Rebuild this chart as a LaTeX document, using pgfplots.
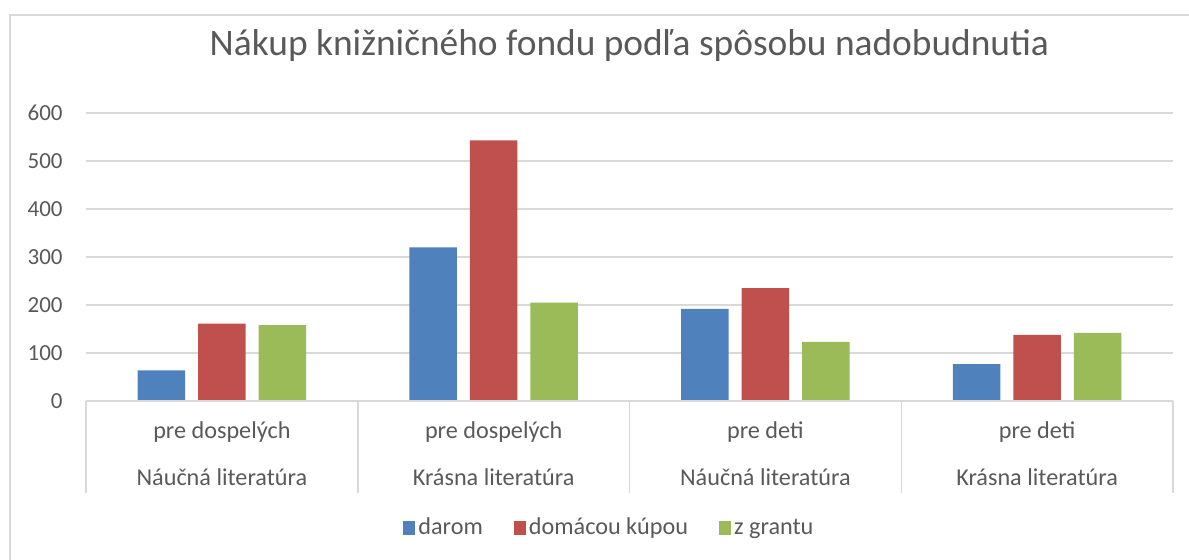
\documentclass[border=0pt]{standalone}
\usepackage{pgfplots}
\pgfplotsset{compat=1.18}
\usepackage{fontspec}
\setmainfont{Carlito}
\definecolor{cblue}{HTML}{4F81BD}
\definecolor{cred}{HTML}{C0504D}
\definecolor{cgreen}{HTML}{9BBB59}
\definecolor{gridc}{HTML}{D9D9D9}
\definecolor{textc}{HTML}{595959}
\begin{document}
\begin{tikzpicture}
\path[use as bounding box] (0pt,0pt) rectangle (594.5pt,280pt);
\draw[gridc, line width=0.75pt] (5pt,-3pt) -- (5pt,272.5pt) -- (597pt,272.5pt);
\begin{axis}[
  at={(43pt,79.5pt)}, anchor=south west,
  scale only axis, width=543.5pt, height=144pt,
  clip=false,
  ybar, bar width=23.75pt,
  xmin=-0.5, xmax=3.5, ymin=0, ymax=600,
  ytick={0,100,...,600},
  xtick={0,1,2,3},
  xticklabels={pre dospelých,pre dospelých,pre deti,pre deti},
  extra x ticks={0,1,2,3},
  extra x tick labels={Náučná literatúra,Krásna literatúra,Náučná literatúra,Krásna literatúra},
  extra x tick style={grid=none, xticklabel style={yshift=-23.5pt}},
  xticklabel style={anchor=base, yshift=-19pt, inner sep=0pt, font=\fontsize{12.1}{14}\selectfont, text=textc},
  yticklabel style={anchor=east, inner sep=0pt, xshift=-11.5pt, font=\fontsize{11.5}{14}\selectfont, text=textc},
  /pgf/number format/assume math mode=true,
  major tick length=0pt,
  tick style={draw=none},
  axis line style={draw=none},
  ymajorgrids, grid style={gridc, line width=0.75pt},
  title={Nákup knižničného fondu podľa spôsobu nadobudnutia},
  title style={at={(0.5,1)}, anchor=base, yshift=22.5pt, font=\fontsize{18.7}{22}\selectfont, text=textc},
  legend columns=-1,
  legend style={at={(0.482,-0.441)}, anchor=center, draw=none, fill=none,
    font=\fontsize{12.1}{14}\selectfont, text=textc,
    /tikz/every even column/.append style={column sep=14pt},
    nodes={inner sep=1.5pt}},
  legend image code/.code={\fill[#1] (0pt,-3.5pt) rectangle (6pt,3.5pt);},
]
\addplot[fill=cblue, draw=none, bar shift=-30.2pt] coordinates {(0,64) (1,320) (2,192) (3,77)};
\addplot[fill=cred, draw=none, bar shift=0pt] coordinates {(0,161) (1,543) (2,235) (3,138)};
\addplot[fill=cgreen, draw=none, bar shift=30.2pt] coordinates {(0,158) (1,205) (2,123) (3,142)};
\legend{darom,domácou kúpou,z grantu}
\draw[gridc, line width=0.75pt] (axis cs:-0.5,0) -- (axis cs:3.5,0);
\pgfplotsinvokeforeach{-0.5,0.5,1.5,2.5,3.5}{
  \draw[gridc, line width=0.75pt] (axis cs:#1,0) -- ++(0pt,-46pt);
}
\end{axis}
\end{tikzpicture}
\end{document}
